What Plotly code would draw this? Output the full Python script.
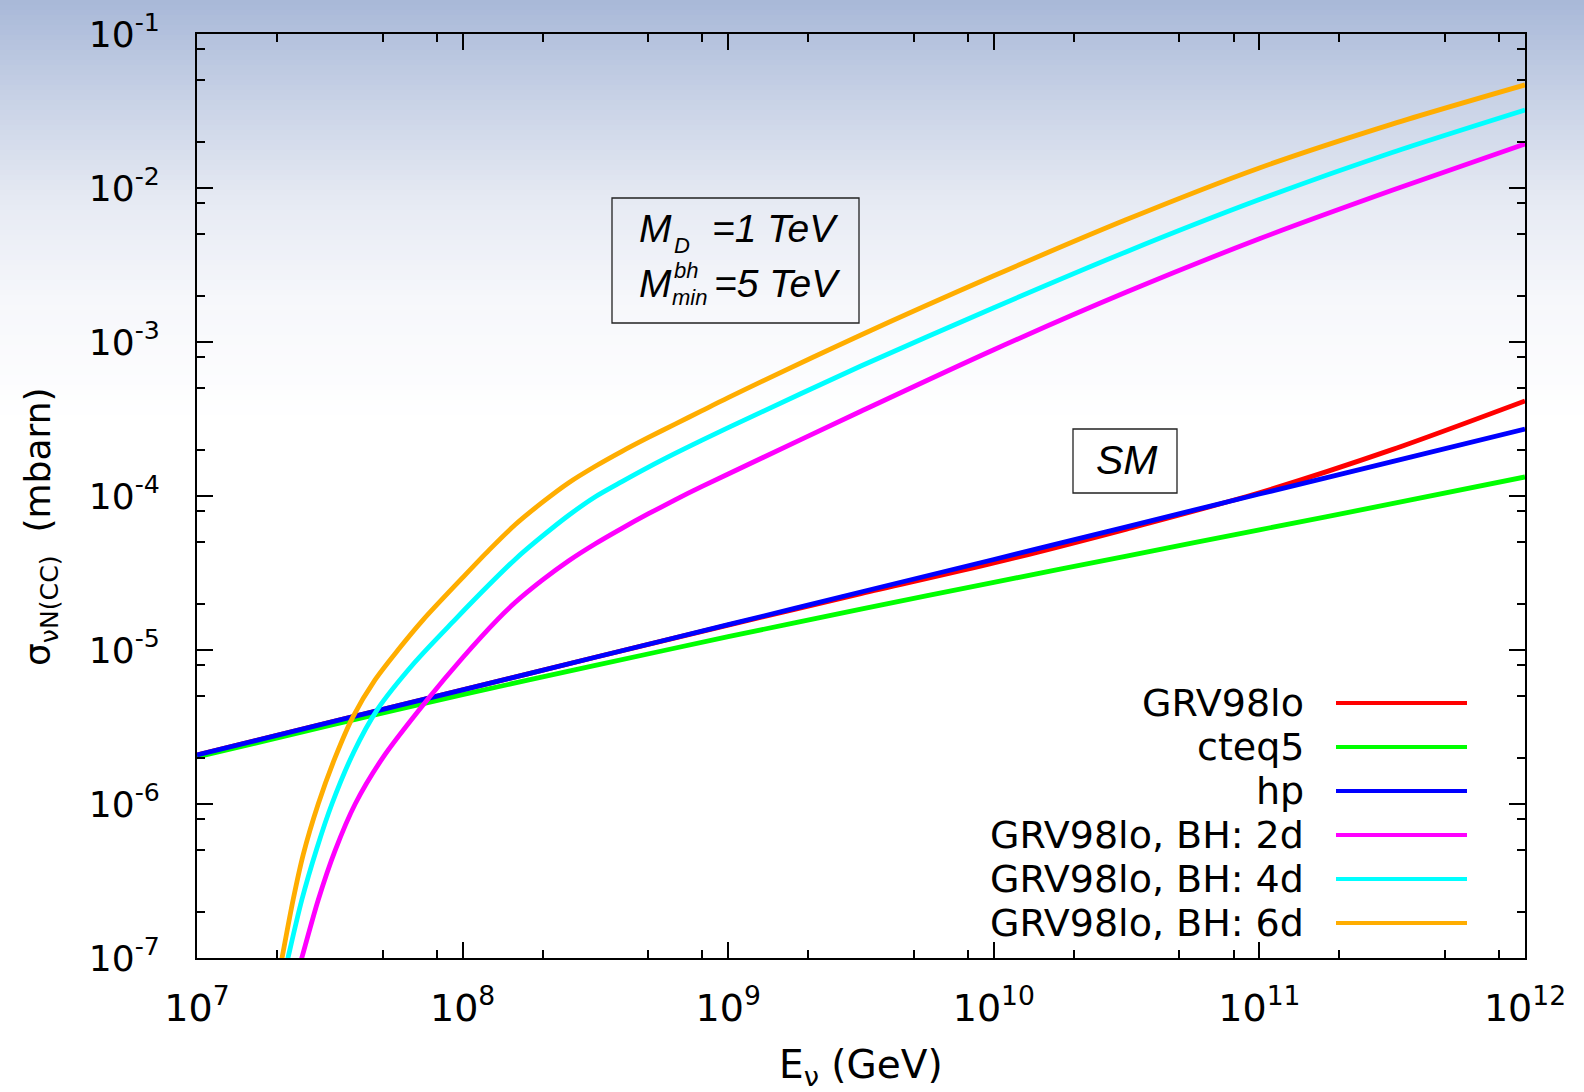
import plotly.graph_objects as go

# ---------------- data ----------------
E_sm = [1e7, 3.16e7, 1e8, 3.16e8, 1e9, 3.16e9, 1e10, 3.16e10, 1e11, 3.16e11, 1e12]
sig_grv98lo = [2.08e-6, 3.39e-6, 5.51e-6, 8.97e-6, 1.45e-5, 2.32e-5, 3.67e-5, 6.10e-5, 1.05e-4, 2.0e-4, 4.14e-4]
sig_cteq5 = [2.02e-6, 3.24e-6, 5.13e-6, 7.94e-6, 1.22e-5, 1.84e-5, 2.75e-5, 4.07e-5, 6.03e-5, 8.91e-5, 1.33e-4]
sig_hp = [2.08e-6, 3.39e-6, 5.51e-6, 8.97e-6, 1.46e-5, 2.38e-5, 3.87e-5, 6.31e-5, 1.03e-4, 1.67e-4, 2.72e-4]

E_bh2 = [2.34e7, 2.48e7, 2.86e7, 3.31e7, 3.94e7, 5.01e7, 7.35e7, 1.0e8, 1.35e8, 1.58e8, 2.0e8,
         2.51e8, 3.16e8, 3.98e8, 5.01e8, 6.31e8, 7.94e8, 1e9, 3.16e9, 1e10, 3.16e10, 1e11, 3.16e11, 1e12]
sig_bh2 = [7.0e-8, 1.0e-7, 2.38e-7, 4.98e-7, 1.0e-6, 2.0e-6, 4.73e-6, 8.91e-6, 1.57e-5, 2.04e-5, 2.85e-5,
           3.80e-5, 4.90e-5, 6.17e-5, 7.67e-5, 9.44e-5, 1.15e-4, 1.39e-4, 3.55e-4, 8.91e-4, 2.11e-3, 4.68e-3,
           9.66e-3, 1.93e-2]
E_bh4 = [2.09e7, 2.20e7, 2.48e7, 2.82e7, 3.22e7, 3.89e7, 4.76e7, 6.61e7, 9.35e7, 1.26e8, 1.58e8, 2.0e8,
         2.51e8, 3.16e8, 3.98e8, 5.01e8, 6.31e8, 7.94e8, 1e9, 3.16e9, 1e10, 3.16e10, 1e11, 3.16e11, 1e12]
sig_bh4 = [6.76e-8, 1.0e-7, 2.38e-7, 5.09e-7, 1.0e-6, 2.17e-6, 4.07e-6, 8.32e-6, 1.57e-5, 2.66e-5, 3.89e-5, 5.50e-5,
           7.50e-5, 9.89e-5, 1.24e-4, 1.54e-4, 1.89e-4, 2.30e-4, 2.78e-4, 6.98e-4, 1.67e-3, 3.86e-3, 8.41e-3,
           1.70e-2, 3.21e-2]
E_bh6 = [2.0e7, 2.09e7, 2.30e7, 2.51e7, 2.86e7, 3.31e7, 3.86e7, 4.68e7, 5.71e7, 7.10e7, 1.0e8,
         1.26e8, 1.58e8, 2.0e8, 2.51e8, 3.16e8, 3.98e8, 5.01e8, 6.31e8, 7.94e8, 1e9, 3.16e9, 1e10, 3.16e10,
         1e11, 3.16e11, 1e12]
sig_bh6 = [6.61e-8, 1.0e-7, 2.38e-7, 4.68e-7, 1.0e-6, 2.0e-6, 3.67e-6, 6.40e-6, 1.0e-5, 1.57e-5, 2.95e-5,
           4.47e-5, 6.53e-5, 9.12e-5, 1.22e-4, 1.56e-4, 1.95e-4, 2.40e-4, 2.93e-4, 3.57e-4, 4.35e-4, 1.11e-3,
           2.69e-3, 6.24e-3, 1.35e-2, 2.60e-2, 4.67e-2]

series_names = ["GRV98lo", "cteq5", "hp", "GRV98lo, BH: 2d", "GRV98lo, BH: 4d", "GRV98lo, BH: 6d"]
series_colors = ["#FF0000", "#00FF00", "#0000FF", "#FF00FF", "#00FFFF", "#FFAD00"]

x_tickvals = [1e7, 1e8, 1e9, 1e10, 1e11, 1e12]
x_ticktext = ["10<sup>7</sup>", "10<sup>8</sup>", "10<sup>9</sup>", "10<sup>10</sup>", "10<sup>11</sup>", "10<sup>12</sup>"]
y_tickvals = [1e-7, 1e-6, 1e-5, 1e-4, 1e-3, 1e-2, 1e-1]
y_ticktext = ["10<sup>-7</sup>", "10<sup>-6</sup>", "10<sup>-5</sup>", "10<sup>-4</sup>", "10<sup>-3</sup>", "10<sup>-2</sup>", "10<sup>-1</sup>"]
minor_mult = [2, 5, 8]

# ---------------- geometry ----------------
W, H = 1584, 1092
L, R, T, B = 197, 1525, 34, 958
PW, PH = R - L, B - T


def px(xpix):
    return (xpix - L) / PW


def py(ypix):
    return (B - ypix) / PH


FONT = "DejaVu Sans"
BOXFONT = "Liberation Sans"

fig = go.Figure()

xs = [E_sm, E_sm, E_sm, E_bh2, E_bh4, E_bh6]
ys = [sig_grv98lo, sig_cteq5, sig_hp, sig_bh2, sig_bh4, sig_bh6]
for name, col, x, y in zip(series_names, series_colors, xs, ys):
    fig.add_trace(go.Scatter(x=x, y=y, mode="lines", name=name,
                             line=dict(color=col, width=4.8, shape="spline", smoothing=0.8),
                             showlegend=False))

shapes = []
# background gradient (figure-wide)
stops = [(0, (168, 184, 216)), (100, (200, 210, 230)), (200, (230, 234, 243)),
         (300, (246, 247, 251)), (420, (255, 255, 255))]
nstrip = 84
for i in range(nstrip):
    y0 = 420 * i / nstrip
    y1 = 420 * (i + 1) / nstrip
    ym = (y0 + y1) / 2
    for (a, ca), (b, cb) in zip(stops[:-1], stops[1:]):
        if a <= ym <= b:
            t = (ym - a) / (b - a)
            c = tuple(int(round(ca[k] + (cb[k] - ca[k]) * t)) for k in range(3))
            break
    shapes.append(dict(type="rect", xref="paper", yref="paper", layer="below",
                       x0=px(-2), x1=px(W + 2), y0=py(y1 + 0.5), y1=py(y0 - (2 if i == 0 else 0)),
                       fillcolor="rgb(%d,%d,%d)" % c, line=dict(width=0)))

# dotted grid (decades), partly hidden behind the key and the text box
grid = dict(color="#8a8a8a", width=1, dash="2px,3px")
vgrid = [(8, -7, -1), (9, -7, -2.877), (9, -2.065, -1), (10, -6, -1), (11, -5.208, -1)]
for xv, y0, y1 in vgrid:
    shapes.append(dict(type="line", xref="x", yref="y", layer="below",
                       x0=xv, x1=xv, y0=y0, y1=y1, line=grid))
hgrid = [(-2, 7, 12), (-3, 7, 12), (-4, 7, 12), (-5, 7, 12), (-6, 7, 10)]
for yv, x0, x1 in hgrid:
    shapes.append(dict(type="line", xref="x", yref="y", layer="below",
                       x0=x0, x1=x1, y0=yv, y1=yv, line=grid))

# text boxes
shapes.append(dict(type="rect", xref="paper", yref="paper", layer="above",
                   x0=px(612), x1=px(859), y0=py(323), y1=py(198),
                   line=dict(color="#222", width=1.3), fillcolor="rgba(0,0,0,0)"))
shapes.append(dict(type="rect", xref="paper", yref="paper", layer="above",
                   x0=px(1073), x1=px(1177), y0=py(493), y1=py(429),
                   line=dict(color="#222", width=1.3), fillcolor="rgba(0,0,0,0)"))

annotations = []


def note(text, xpix, ypix, size, family=FONT, xanchor="left", angle=0):
    annotations.append(dict(xref="paper", yref="paper", x=px(xpix), y=py(ypix),
                            xanchor=xanchor, yanchor="middle", showarrow=False,
                            textangle=angle, text=text,
                            font=dict(family=family, size=size, color="black")))


# key (gnuplot style: text right-aligned, sample on the right)
key_y = [703, 747, 791, 835, 879, 923]
for name, col, yk in zip(series_names, series_colors, key_y):
    note(name, 1306, yk, 38, xanchor="right")
    shapes.append(dict(type="line", xref="paper", yref="paper", layer="above",
                       x0=px(1336), x1=px(1467), y0=py(yk), y1=py(yk),
                       line=dict(color=col, width=4)))

# box texts (pieces placed like the gnuplot enhanced text)
note("<i>M</i>", 637, 228.5, 39, BOXFONT)
note("<i>D</i>", 672, 245.5, 22, BOXFONT)
note("<i>=1 TeV</i>", 841, 228.5, 39, BOXFONT, xanchor="right")
note("<i>M</i>", 637, 283.5, 39, BOXFONT)
note("<i>bh</i>", 672, 270.5, 22, BOXFONT)
note("<i>min</i>", 670, 297, 22, BOXFONT)
note("<i>=5 TeV</i>", 843, 283.5, 39, BOXFONT, xanchor="right")
note("<i>SM</i>", 1127, 460, 41, BOXFONT, xanchor="center")

# axis titles
note("σ<sub>νN(CC)</sub>  (mbarn)", 40, 527, 36, xanchor="center", angle=-90)
note("E<sub>ν</sub> (GeV)", 861, 1067, 39, xanchor="center")

x_minor = [m * d for d in [1e7, 1e8, 1e9, 1e10, 1e11] for m in minor_mult]
y_minor = [m * d for d in [1e-7, 1e-6, 1e-5, 1e-4, 1e-3, 1e-2] for m in minor_mult]

axis_common = dict(showline=True, linecolor="black", linewidth=2, mirror="allticks",
                   ticks="inside", ticklen=16, tickwidth=2, tickcolor="black",
                   showgrid=False, zeroline=False, automargin=False)

fig.update_xaxes(type="log", range=[7, 12], tickvals=x_tickvals, ticktext=x_ticktext,
                 ticklabelstandoff=15, tickfont=dict(family=FONT, size=38, color="black"),
                 minor=dict(tickmode="array", tickvals=x_minor, ticks="inside", ticklen=8,
                            tickwidth=2, tickcolor="black", showgrid=False),
                 **axis_common)
fig.update_yaxes(type="log", range=[-7, -1], tickvals=y_tickvals, ticktext=y_ticktext,
                 ticklabelstandoff=28, tickfont=dict(family=FONT, size=36, color="black"),
                 minor=dict(tickmode="array", tickvals=y_minor, ticks="inside", ticklen=8,
                            tickwidth=2, tickcolor="black", showgrid=False),
                 **axis_common)

fig.update_layout(width=W, height=H, margin=dict(l=L, r=W - R, t=T, b=H - B, pad=0, autoexpand=False),
                  paper_bgcolor="white", plot_bgcolor="rgba(0,0,0,0)",
                  shapes=shapes, annotations=annotations, showlegend=False,
                  font=dict(family=FONT, color="black"))

fig.write_html("out.html")
